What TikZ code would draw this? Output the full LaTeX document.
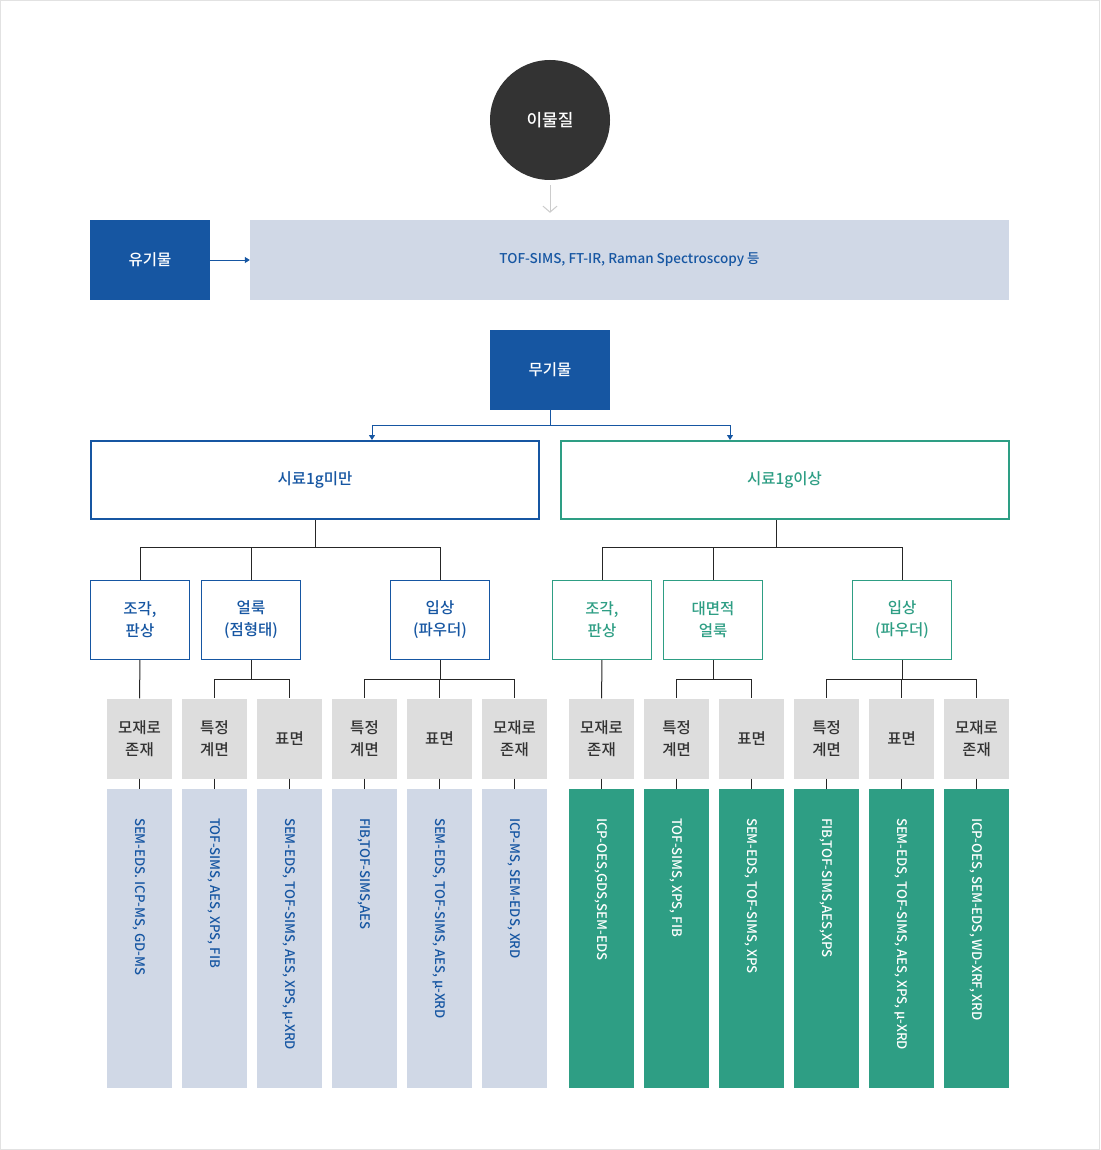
\documentclass[tikz,border=0pt]{standalone}
\usepackage{fontspec}
\setmainfont{Noto Sans CJK KR Medium}
\usepackage{xcolor}
\usepackage{tikz}
\usetikzlibrary{positioning, arrows.meta}

\definecolor{inkblue}{HTML}{1656A2}
\definecolor{paleblue}{HTML}{D0D8E6}
\definecolor{sgreen}{HTML}{2E9E84}
\definecolor{darkcirc}{HTML}{333333}
\definecolor{boxgray}{HTML}{DDDDDD}
\definecolor{framegray}{HTML}{E2E2E2}
\definecolor{arrowgray}{HTML}{CCCCCC}
\definecolor{labelgray}{HTML}{333333}

\begin{document}
\begin{tikzpicture}[x=1pt,y=-1pt,font=\fontsize{15.5}{22}\selectfont]
	\tikzstyle{solidbox}=[fill=inkblue,text=white,minimum width=120pt,minimum height=80pt,inner sep=0pt]
	\tikzstyle{palebox}=[fill=paleblue,text=inkblue,minimum height=80pt,inner sep=0pt,font=\fontsize{13.5}{22}\selectfont]
	\tikzstyle{bigbox}=[draw,line width=2pt,fill=white,minimum width=448pt,minimum height=78pt,inner sep=0pt]
	\tikzstyle{kindbox}=[draw,line width=1pt,fill=white,minimum width=99pt,minimum height=79pt,align=center,inner sep=0pt]
	\tikzstyle{placebox}=[fill=boxgray,text=labelgray,minimum width=65pt,minimum height=80pt,align=center,inner sep=0pt]
	\tikzstyle{toolcol}=[minimum width=65pt,minimum height=299pt,inner sep=0pt]
	\tikzstyle{tooltext}=[rotate=-90,anchor=west,inner sep=0pt,font=\fontsize{13.2}{22}\selectfont]
	\tikzstyle{tree}=[draw=black!85,line width=1pt]
	\tikzstyle{bluearrow}=[draw=inkblue,line width=1pt,-{Triangle[length=5pt,width=6pt]}]
	\tikzstyle{grayarrow}=[draw=arrowgray,line width=1pt,-{Straight Barb[length=6pt,width=14pt]}]
	\useasboundingbox (0,0) rectangle (1100,1150);
	\draw[draw=framegray,fill=white,line width=1pt] (0.5,0.5) rectangle (1099.5,1149.5);
	% top
	\node[circle,fill=darkcirc,text=white,minimum size=120pt,inner sep=0pt,font=\fontsize{17}{22}\selectfont](foreign) at (550,120) {이물질};
	\node[solidbox](organic) at (150,260) {유기물};
	\node[palebox,minimum width=759pt](orgtools) at (629.5,260) {TOF-SIMS, FT-IR, Raman Spectroscopy 등};
	\draw[grayarrow]([yshift=-5pt]foreign.south) -- ([yshift=7pt]foreign.south |- orgtools.north);
	\draw[bluearrow](organic) -- (orgtools);
	\node[solidbox](inorganic) at (550,370) {무기물};
	% sample weight
	\node[bigbox,draw=inkblue,text=inkblue](under) at (315,480) {시료1g미만};
	\node[bigbox,draw=sgreen,text=sgreen](over) at (784.5,480) {시료1g이상};
	\draw[bluearrow](inorganic.south) -- ++(0,15) -| ([xshift=57pt]under.north);
	\draw[bluearrow](inorganic.south) -- ++(0,15) -| ([xshift=-54.5pt]over.north);
	% form
	\node[kindbox,draw=inkblue,text=inkblue](u1) at (140,620) {조각,\\판상};
	\node[kindbox,draw=inkblue,text=inkblue](u2) at (251,620) {얼룩\\(점형태)};
	\node[kindbox,draw=inkblue,text=inkblue](u3) at (440,620) {입상\\(파우더)};
	\node[kindbox,draw=sgreen,text=sgreen](o1) at (602,620) {조각,\\판상};
	\node[kindbox,draw=sgreen,text=sgreen](o2) at (713,620) {대면적\\얼룩};
	\node[kindbox,draw=sgreen,text=sgreen](o3) at (902,620) {입상\\(파우더)};
	\draw[tree](under.south) -- ++(0,27) -| (u1.north);
	\draw[tree](under.south) -- ++(0,27) -| (u2.north);
	\draw[tree](under.south) -- ++(0,27) -| (u3.north);
	\draw[tree]([xshift=-8.5pt]over.south) -- ++(0,27) -| (o1.north);
	\draw[tree]([xshift=-8.5pt]over.south) -- ++(0,27) -| (o2.north);
	\draw[tree]([xshift=-8.5pt]over.south) -- ++(0,27) -| (o3.north);
	% position
	\node[placebox](p1) at (139.5,738.5) {모재로\\존재};
	\node[placebox](p2) at (214.5,738.5) {특정\\계면};
	\node[placebox](p3) at (289.5,738.5) {표면};
	\node[placebox](p4) at (364.5,738.5) {특정\\계면};
	\node[placebox](p5) at (439.5,738.5) {표면};
	\node[placebox](p6) at (514.5,738.5) {모재로\\존재};
	\node[placebox](p7) at (601.5,738.5) {모재로\\존재};
	\node[placebox](p8) at (676.5,738.5) {특정\\계면};
	\node[placebox](p9) at (751.5,738.5) {표면};
	\node[placebox](p10) at (826.5,738.5) {특정\\계면};
	\node[placebox](p11) at (901.5,738.5) {표면};
	\node[placebox](p12) at (976.5,738.5) {모재로\\존재};
	\draw[tree](u1) -- (p1);
	\draw[tree](u2.south) -- ++(0,19) -| (p2.north);
	\draw[tree](u2.south) -- ++(0,19) -| (p3.north);
	\draw[tree](u3.south) -- ++(0,19) -| (p4.north);
	\draw[tree](u3.south) -- ++(0,19) -| (p5.north);
	\draw[tree](u3.south) -- ++(0,19) -| (p6.north);
	\draw[tree](o1) -- (p7);
	\draw[tree](o2.south) -- ++(0,19) -| (p8.north);
	\draw[tree](o2.south) -- ++(0,19) -| (p9.north);
	\draw[tree](o3.south) -- ++(0,19) -| (p10.north);
	\draw[tree](o3.south) -- ++(0,19) -| (p11.north);
	\draw[tree](o3.south) -- ++(0,19) -| (p12.north);
	% methods
	\node[toolcol,fill=paleblue](q1) at (139.5,938.5) {};
	\node[toolcol,fill=paleblue](q2) at (214.5,938.5) {};
	\node[toolcol,fill=paleblue](q3) at (289.5,938.5) {};
	\node[toolcol,fill=paleblue](q4) at (364.5,938.5) {};
	\node[toolcol,fill=paleblue](q5) at (439.5,938.5) {};
	\node[toolcol,fill=paleblue](q6) at (514.5,938.5) {};
	\node[toolcol,fill=sgreen](q7) at (601.5,938.5) {};
	\node[toolcol,fill=sgreen](q8) at (676.5,938.5) {};
	\node[toolcol,fill=sgreen](q9) at (751.5,938.5) {};
	\node[toolcol,fill=sgreen](q10) at (826.5,938.5) {};
	\node[toolcol,fill=sgreen](q11) at (901.5,938.5) {};
	\node[toolcol,fill=sgreen](q12) at (976.5,938.5) {};
	\node[tooltext,text=inkblue](q1t) at ([yshift=-29pt]q1.north) {SEM-EDS. ICP-MS, GD-MS};
	\node[tooltext,text=inkblue](q2t) at ([yshift=-29pt]q2.north) {TOF-SIMS, AES, XPS, FIB};
	\node[tooltext,text=inkblue](q3t) at ([yshift=-29pt]q3.north) {SEM-EDS, TOF-SIMS, AES, XPS, μ-XRD};
	\node[tooltext,text=inkblue](q4t) at ([yshift=-29pt]q4.north) {FIB,TOF-SIMS,AES};
	\node[tooltext,text=inkblue](q5t) at ([yshift=-29pt]q5.north) {SEM-EDS, TOF-SIMS, AES, μ-XRD};
	\node[tooltext,text=inkblue](q6t) at ([yshift=-29pt]q6.north) {ICP-MS, SEM-EDS, XRD};
	\node[tooltext,text=white](q7t) at ([yshift=-29pt]q7.north) {ICP-OES,GDS,SEM-EDS};
	\node[tooltext,text=white](q8t) at ([yshift=-29pt]q8.north) {TOF-SIMS, XPS, FIB};
	\node[tooltext,text=white](q9t) at ([yshift=-29pt]q9.north) {SEM-EDS, TOF-SIMS, XPS};
	\node[tooltext,text=white](q10t) at ([yshift=-29pt]q10.north) {FIB,TOF-SIMS,AES,XPS};
	\node[tooltext,text=white](q11t) at ([yshift=-29pt]q11.north) {SEM-EDS, TOF-SIMS, AES, XPS, μ-XRD};
	\node[tooltext,text=white](q12t) at ([yshift=-29pt]q12.north) {ICP-OES, SEM-EDS, WD-XRF, XRD};
	\draw[tree](p1) -- (q1);
	\draw[tree](p2) -- (q2);
	\draw[tree](p3) -- (q3);
	\draw[tree](p4) -- (q4);
	\draw[tree](p5) -- (q5);
	\draw[tree](p6) -- (q6);
	\draw[tree](p7) -- (q7);
	\draw[tree](p8) -- (q8);
	\draw[tree](p9) -- (q9);
	\draw[tree](p10) -- (q10);
	\draw[tree](p11) -- (q11);
	\draw[tree](p12) -- (q12);
\end{tikzpicture}
\end{document}
